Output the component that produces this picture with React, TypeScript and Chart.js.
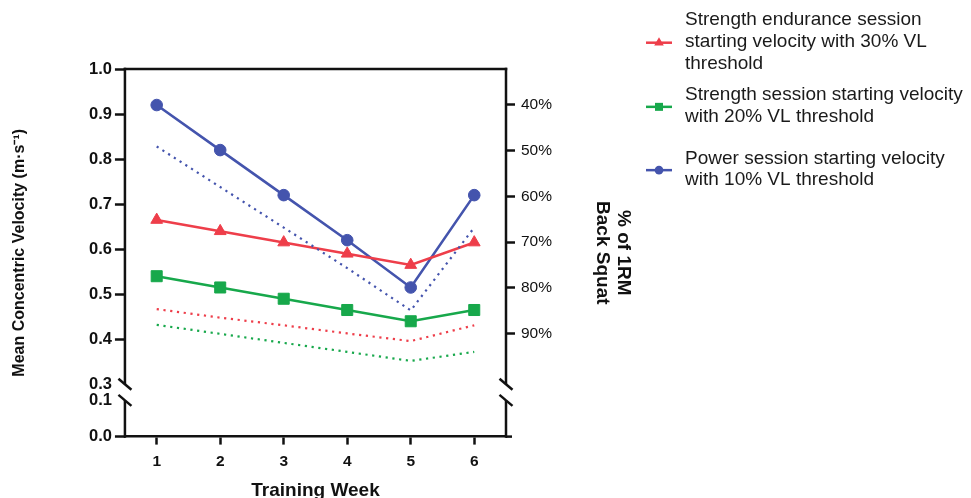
import React, { useEffect, useRef } from 'react';
import { Chart, registerables } from 'chart.js';

Chart.register(...registerables);

// ---------- data ----------
const weeks = [1, 2, 3, 4, 5, 6];
const strengthEnduranceVelocity = [0.665, 0.64, 0.615, 0.59, 0.565, 0.615];
const strengthVelocity = [0.54, 0.515, 0.49, 0.465, 0.44, 0.465];
const powerVelocity = [0.92, 0.82, 0.72, 0.62, 0.515, 0.72];
const strengthEnduranceThreshold = [0.467, 0.448, 0.431, 0.413, 0.396, 0.431];
const strengthThreshold = [0.432, 0.412, 0.392, 0.372, 0.352, 0.372];
const powerThreshold = [0.828, 0.738, 0.648, 0.558, 0.464, 0.648];

const upperTicks = [0.3, 0.4, 0.5, 0.6, 0.7, 0.8, 0.9, 1.0];
const lowerTicks = [0.0, 0.05, 0.1];
const percentTicks = [40, 50, 60, 70, 80, 90];

const legendStrengthEndurance = ['Strength endurance session', 'starting velocity with 30% VL', 'threshold'];
const legendStrength = ['Strength session starting velocity', 'with 20% VL threshold'];
const legendPower = ['Power session starting velocity', 'with 10% VL threshold'];

const xTitle = 'Training Week';
const yTitle = 'Mean Concentric Velocity (m\u00B7s\u207B\u00B9)';
const y1Title = ['% of 1RM', 'Back Squat'];

// ---------- styles ----------
const FONT = "'Liberation Sans', Arial, Helvetica, sans-serif";
const AXIS = '#111111';
const TEXT = '#111111';
const RED = '#ee3e4a';
const GREEN = '#17a84b';
const BLUE = '#4454ad';
const CLEAR = 'rgba(0,0,0,0)';

const near = (a: number, b: number) => Math.abs(a - b) < 1e-6;

const legendItems = [
  { lines: legendStrengthEndurance, color: RED, style: 'triangle', firstLineY: 20 },
  { lines: legendStrength, color: GREEN, style: 'rect', firstLineY: 95 },
  { lines: legendPower, color: BLUE, style: 'circle', firstLineY: 158.3 },
];

const legendPlugin = {
  id: 'customLegend',
  afterDraw(chart: any) {
    const { ctx } = chart;
    const lineH = 21.7;
    ctx.save();
    legendItems.forEach((item) => {
      ctx.font = `19px ${FONT}`;
      ctx.fillStyle = '#1a1a1a';
      ctx.textBaseline = 'middle';
      ctx.textAlign = 'left';
      item.lines.forEach((t, i) => ctx.fillText(t, 685, item.firstLineY + i * lineH));
      const cy = item.firstLineY + ((item.lines.length - 1) * lineH) / 2 + 1;
      const cx = 659;
      ctx.strokeStyle = item.color;
      ctx.fillStyle = item.color;
      ctx.lineWidth = 2.5;
      ctx.beginPath();
      ctx.moveTo(646, cy);
      ctx.lineTo(672, cy);
      ctx.stroke();
      ctx.beginPath();
      if (item.style === 'triangle') {
        ctx.moveTo(cx, cy - 5.5);
        ctx.lineTo(cx + 4.8, cy + 2.8);
        ctx.lineTo(cx - 4.8, cy + 2.8);
        ctx.closePath();
      } else if (item.style === 'rect') {
        ctx.rect(cx - 4, cy - 4, 8, 8);
      } else {
        ctx.arc(cx, cy, 4.3, 0, Math.PI * 2);
      }
      ctx.fill();
    });
    ctx.restore();
  },
};

const brokenAxesPlugin = {
  id: 'brokenAxes',
  afterDraw(chart: any) {
    const { ctx, chartArea } = chart;
    const yUp = chart.scales.y;
    const yLo = chart.scales.yLow;
    const breakTop = yUp.getPixelForValue(upperTicks[0]);
    const breakBottom = yLo.getPixelForValue(lowerTicks[lowerTicks.length - 1]);
    ctx.save();
    ctx.strokeStyle = AXIS;
    ctx.lineWidth = 2.5;
    ctx.lineCap = 'butt';
    ctx.beginPath();
    ctx.moveTo(chartArea.left - 1.25, chartArea.top);
    ctx.lineTo(chartArea.right + 1.25, chartArea.top);
    ctx.stroke();
    ctx.beginPath();
    ctx.moveTo(chartArea.right, chartArea.bottom);
    ctx.lineTo(chartArea.right + 6, chartArea.bottom);
    ctx.stroke();
    [chartArea.left, chartArea.right].forEach((x: number) => {
      ctx.beginPath();
      ctx.moveTo(x, chartArea.top - 1.25);
      ctx.lineTo(x, breakTop);
      ctx.moveTo(x, breakBottom);
      ctx.lineTo(x, chartArea.bottom + 1.25);
      ctx.stroke();
      [breakTop, breakBottom].forEach((yb: number) => {
        ctx.beginPath();
        ctx.moveTo(x - 6.5, yb - 5.5);
        ctx.lineTo(x + 6.5, yb + 5.5);
        ctx.stroke();
      });
    });
    ctx.restore();
  },
};

function solid(label: string, data: number[], color: string, style: string, radius: number) {
  return {
    label,
    data,
    yAxisID: 'y',
    borderColor: color,
    backgroundColor: color,
    borderWidth: 2.6,
    pointStyle: style,
    pointRadius: radius,
    pointHoverRadius: radius,
    pointBackgroundColor: color,
    pointBorderColor: color,
    pointBorderWidth: 1,
    tension: 0,
    fill: false,
    clip: false,
  };
}

function dotted(label: string, data: number[], color: string) {
  return {
    label,
    data,
    yAxisID: 'y',
    borderColor: color,
    backgroundColor: color,
    borderWidth: 2.2,
    borderDash: [2.2, 4.6],
    borderCapStyle: 'butt',
    pointRadius: 0,
    pointHoverRadius: 0,
    tension: 0,
    fill: false,
  };
}

export default function App() {
  const ref = useRef<HTMLCanvasElement>(null);

  useEffect(() => {
    if (!ref.current) return;
    Chart.defaults.font.family = FONT;
    Chart.defaults.color = TEXT;

    const chart = new Chart(ref.current, {
      type: 'line',
      data: {
        labels: weeks,
        datasets: [
          dotted('Strength endurance threshold', strengthEnduranceThreshold, RED),
          dotted('Strength threshold', strengthThreshold, GREEN),
          dotted('Power threshold', powerThreshold, BLUE),
          solid(legendStrengthEndurance.join(' '), strengthEnduranceVelocity, RED, 'triangle', 6.8),
          solid(legendStrength.join(' '), strengthVelocity, GREEN, 'rect', 7.8),
          solid(legendPower.join(' '), powerVelocity, BLUE, 'circle', 5.8),
        ] as any,
      },
      options: {
        responsive: false,
        animation: false,
        devicePixelRatio: 1,
        layout: { padding: { top: 69, right: 335.5, bottom: 0, left: 0 } },
        plugins: {
          legend: { display: false },
          tooltip: { enabled: false },
          title: { display: false },
        },
        scales: {
          x: {
            type: 'linear',
            min: 0.5,
            max: 6.5,
            afterBuildTicks: (s: any) => {
              s.ticks = weeks.map((v) => ({ value: v }));
            },
            grid: { display: true, drawOnChartArea: false, drawTicks: true, tickLength: 8, tickWidth: 2.5, tickColor: AXIS },
            border: { display: true, color: AXIS, width: 2.5 },
            ticks: {
              font: { size: 15.5, weight: 'bold' },
              color: TEXT,
              padding: 8,
              maxRotation: 0,
              autoSkip: false,
              callback: (v: any) => String(v),
            },
            title: {
              display: true,
              text: xTitle,
              color: TEXT,
              font: { size: 19, weight: 'bold' },
              padding: { top: 0, bottom: 0 },
            },
          },
          yLow: {
            type: 'linear',
            position: 'left',
            stack: 'left',
            stackWeight: 52.3,
            min: 0,
            max: 0.1444,
            afterBuildTicks: (s: any) => {
              s.ticks = lowerTicks.map((v) => ({ value: v }));
            },
            grid: {
              drawOnChartArea: false,
              drawTicks: true,
              tickLength: 10,
              tickWidth: 2.5,
              tickColor: (c: any) => (c.tick && near(c.tick.value, lowerTicks[2]) ? CLEAR : AXIS),
              tickBorderDash: (c: any) => (c.tick && near(c.tick.value, lowerTicks[1]) ? [0, 5, 40] : []),
            },
            border: { display: false },
            ticks: {
              font: { size: 16.5, weight: 'bold' },
              color: TEXT,
              padding: 3,
              callback: (v: any) => (near(Number(v), lowerTicks[1]) ? '' : Number(v).toFixed(1)),
            },
          },
          y: {
            type: 'linear',
            position: 'left',
            stack: 'left',
            stackWeight: 315.5,
            min: 0.3,
            max: 1.0,
            afterBuildTicks: (s: any) => {
              s.ticks = upperTicks.map((v) => ({ value: v }));
            },
            grid: {
              drawOnChartArea: false,
              drawTicks: true,
              tickLength: 10,
              tickWidth: 2.5,
              tickColor: (c: any) => (c.tick && near(c.tick.value, upperTicks[0]) ? CLEAR : AXIS),
            },
            border: { display: false },
            ticks: {
              font: { size: 16.5, weight: 'bold' },
              color: TEXT,
              padding: 3,
              callback: (v: any) => Number(v).toFixed(1),
            },
          },
          yTitle: {
            type: 'linear',
            position: 'left',
            weight: 10,
            min: 0,
            max: 1,
            grid: { display: false, drawTicks: false },
            border: { display: false },
            ticks: { display: false },
            afterFit: (s: any) => {
              s.width = 86;
            },
            title: {
              display: true,
              text: yTitle,
              color: TEXT,
              font: { size: 16, weight: 'bold' },
              padding: { top: 10, bottom: 56 },
            },
          },
          y1: {
            type: 'linear',
            position: 'right',
            reverse: true,
            min: 32.2,
            max: 112.5,
            afterBuildTicks: (s: any) => {
              s.ticks = percentTicks.map((v) => ({ value: v }));
            },
            afterFit: (s: any) => {
              s.width = 129.5;
            },
            grid: { drawOnChartArea: false, drawTicks: true, tickLength: 9, tickWidth: 2.5, tickColor: AXIS },
            border: { display: false },
            ticks: {
              font: { size: 15.5 },
              color: TEXT,
              padding: 6,
              callback: (v: any) => `${v}%`,
            },
            title: {
              display: true,
              text: y1Title,
              color: TEXT,
              font: { size: 19, weight: 'bold', lineHeight: 1.1 },
              padding: { top: 2, bottom: 40 },
            },
          },
        } as any,
      },
      plugins: [brokenAxesPlugin, legendPlugin],
    } as any);

    return () => chart.destroy();
  }, []);

  return (
    <div style={{ position: 'fixed', left: 0, top: 0, width: 971, height: 502, background: '#ffffff' }}>
      <canvas ref={ref} width={971} height={502} style={{ display: 'block' }} />
    </div>
  );
}
